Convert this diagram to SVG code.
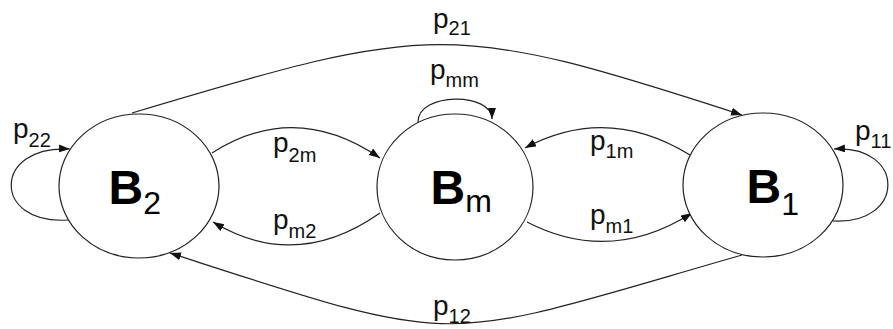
<svg xmlns="http://www.w3.org/2000/svg" width="893" height="329" viewBox="0 0 893 329">
<style>
.node{fill:#fff;stroke:#222;stroke-width:1.2}
.edge{fill:none;stroke:#222;stroke-width:1.2;marker-end:url(#arr)}
.lbl{font-family:"Liberation Sans",Arial,sans-serif;font-size:28px;fill:#111}
.sub{font-size:20px}
.big{font-family:"Liberation Sans",Arial,sans-serif;font-size:48px;font-weight:bold;fill:#000}
.bsub{font-size:32px;font-weight:normal}
</style>
<defs>
<marker id="arr" markerWidth="12" markerHeight="10" refX="11" refY="4" orient="auto" markerUnits="userSpaceOnUse">
<path d="M0,0 L11,4 L0,8 Z" fill="#111"/>
</marker>
</defs>
<rect width="893" height="329" fill="#fff"/>
<g id="connectors">
<path class="edge" d="M68,220 C-8,225 -8,145 70,149"/>
<path class="edge" d="M833,221 C906,225 906,145 834,149"/>
<path class="edge" d="M418,122 C418,92 492,92 492,119"/>
<path class="edge" d="M212,153 Q295,100 380,158"/>
<path class="edge" d="M380,213 Q296,272 213,222"/>
<path class="edge" d="M690,155 Q607,104 525,148"/>
<path class="edge" d="M527,222 Q610,265 692,213"/>
<path class="edge" d="M132,113 C432,23 450,20 742,115"/>
<path class="edge" d="M742,255 C432,344 470,350 170,253"/>
</g>
<g id="B2">
<ellipse class="node" cx="139" cy="186" rx="80" ry="72"/>
<text class="big" x="108.5" y="204">B<tspan class="bsub" dy="10">2</tspan></text>
</g>
<g id="Bm">
<ellipse class="node" cx="455" cy="187" rx="78" ry="73"/>
<text class="big" x="430.5" y="204">B<tspan class="bsub" dy="8">m</tspan></text>
</g>
<g id="B1">
<ellipse class="node" cx="763" cy="185" rx="80" ry="72"/>
<text class="big" x="746.5" y="203">B<tspan class="bsub" dy="12">1</tspan></text>
</g>
<g id="labels">
<text class="lbl" x="13" y="138">p<tspan class="sub" dy="9">22</tspan></text>
<text class="lbl" x="273" y="152">p<tspan class="sub" dy="10">2m</tspan></text>
<text class="lbl" x="273" y="229">p<tspan class="sub" dy="9">m2</tspan></text>
<text class="lbl" x="590" y="150">p<tspan class="sub" dy="8">1m</tspan></text>
<text class="lbl" x="590" y="224">p<tspan class="sub" dy="9">m1</tspan></text>
<text class="lbl" x="855" y="140">p<tspan class="sub" dy="8">11</tspan></text>
<text class="lbl" x="433" y="28">p<tspan class="sub" dy="7">21</tspan></text>
<text class="lbl" x="430" y="79">p<tspan class="sub" dy="8">mm</tspan></text>
<text class="lbl" x="433" y="315">p<tspan class="sub" dy="8">12</tspan></text>
</g>
</svg>
